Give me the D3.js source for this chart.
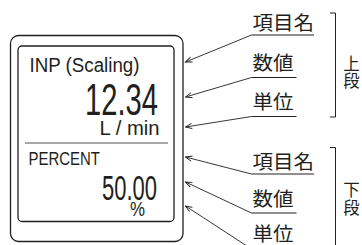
<!DOCTYPE html>
<html>
<head>
<meta charset="utf-8">
<script src="https://cdn.jsdelivr.net/npm/d3@7.9.0/dist/d3.min.js"></script>
<style>
  html, body { margin: 0; padding: 0; background: #fff; }
  svg { display: block; }
  .disp { font-family: "Liberation Sans Narrow", "Liberation Sans", Arial, sans-serif; fill: #231f20; }
  .jp { font-family: "Noto Sans CJK JP", sans-serif; fill: #231f20; }
</style>
</head>
<body>
<svg width="362" height="245"></svg>
<script>
// display contents (upper / lower row)
const itemNames = ['INP (Scaling)', 'PERCENT'];
const values = ['12.34', '50.00'];
const units = ['L / min', '%'];
// callout labels
const calloutLabels = ['項目名', '数値', '単位'];
const sectionLabels = ['上段', '下段'];

const svg = d3.select('svg');
const ink = '#231f20';

// arrow head
svg.append('defs').append('marker')
  .attr('id', 'arr')
  .attr('markerUnits', 'userSpaceOnUse')
  .attr('markerWidth', 10).attr('markerHeight', 10)
  .attr('viewBox', '-8 -5 10 10')
  .attr('refX', 0).attr('refY', 0)
  .attr('orient', 'auto')
  .append('path')
  .attr('d', 'M-6.5,-2.6 L0,0 L-6.5,2.6')
  .attr('fill', 'none').attr('stroke', ink).attr('stroke-width', 0.9);

// outer case + screen
svg.append('rect').attr('x', 10.5).attr('y', 35.5).attr('width', 172.5).attr('height', 206)
  .attr('rx', 8).attr('fill', 'none').attr('stroke', ink).attr('stroke-width', 1.3);
svg.append('rect').attr('x', 18).attr('y', 46).attr('width', 156).attr('height', 175.5)
  .attr('rx', 4).attr('fill', 'none').attr('stroke', ink).attr('stroke-width', 1.3);

// divider
svg.append('line').attr('x1', 25).attr('x2', 168).attr('y1', 143).attr('y2', 143)
  .attr('stroke', '#8a8a8a').attr('stroke-width', 1.6);

// display texts
const rows = [
  { t: itemNames[0], x: 29.5, y: 72, s: 20, w: 110 },
  { t: values[0], x: 85, y: 115, s: 44.5, w: 73 },
  { t: units[0], x: 99.5, y: 135, s: 19.5, w: 60 },
  { t: itemNames[1], x: 28.5, y: 165, s: 18, w: 71.5 },
  { t: values[1], x: 102, y: 200, s: 35, w: 55 },
  { t: units[1], x: 130, y: 215.5, s: 20, w: 15 }
];
svg.selectAll('text.disp').data(rows).join('text')
  .attr('class', 'disp')
  .attr('x', d => d.x).attr('y', d => d.y)
  .attr('font-size', d => d.s)
  .attr('textLength', d => d.w)
  .attr('lengthAdjust', 'spacingAndGlyphs')
  .text(d => d.t);

// callouts
const callouts = [
  { t: calloutLabels[0], cy: 21, uy: 35, ux2: 314, ty: 62 },
  { t: calloutLabels[1], cy: 61, uy: 77.5, ux2: 296.5, ty: 97 },
  { t: calloutLabels[2], cy: 100, uy: 116.5, ux2: 296.5, ty: 127 },
  { t: calloutLabels[0], cy: 160, uy: 174, ux2: 314, ty: 157 },
  { t: calloutLabels[1], cy: 197, uy: 213, ux2: 296.5, ty: 182 },
  { t: calloutLabels[2], cy: 232.5, uy: 249, ux2: 296.5, ty: 206 }
];
const cg = svg.append('g');
callouts.forEach(d => {
  cg.append('text').attr('class', 'jp')
    .attr('x', 252.5).attr('y', d.cy)
    .attr('dominant-baseline', 'central')
    .attr('font-size', 19.5)
    .attr('textLength', d.t.length * 20.5)
    .attr('lengthAdjust', 'spacingAndGlyphs')
    .text(d.t);
  cg.append('line').attr('x1', 251.5).attr('x2', d.ux2).attr('y1', d.uy).attr('y2', d.uy)
    .attr('stroke', ink).attr('stroke-width', 1);
  cg.append('line').attr('x1', 251.5).attr('y1', d.uy).attr('x2', 185.5).attr('y2', d.ty)
    .attr('stroke', ink).attr('stroke-width', 0.9).attr('marker-end', 'url(#arr)');
});

// brackets and stacked section labels
const brackets = [
  { y1: 13, y2: 117, chars: [63, 80] },
  { y1: 147.5, y2: 260, chars: [189, 207] }
];
brackets.forEach((b, i) => {
  svg.append('path')
    .attr('d', `M330,${b.y1} H335.5 V${b.y2} H330`)
    .attr('fill', 'none').attr('stroke', ink).attr('stroke-width', 1);
  Array.from(sectionLabels[i]).forEach((ch, j) => {
    svg.append('text').attr('class', 'jp')
      .attr('x', 351.5).attr('y', b.chars[j])
      .attr('text-anchor', 'middle')
      .attr('dominant-baseline', 'central')
      .attr('font-size', 16.5)
      .text(ch);
  });
});
</script>
</body>
</html>
